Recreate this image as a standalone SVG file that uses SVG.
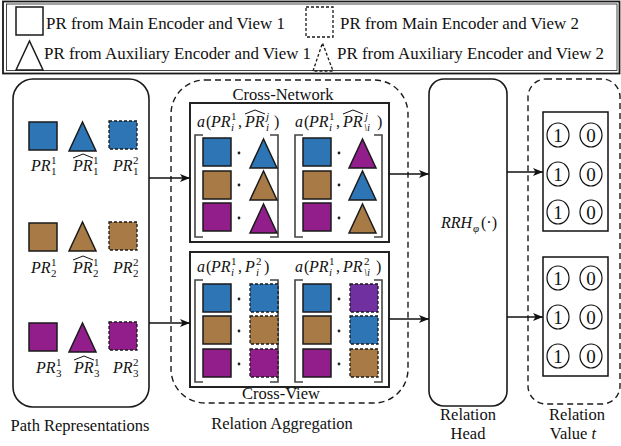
<svg xmlns="http://www.w3.org/2000/svg" width="621" height="446" viewBox="0 0 621 446">
  <defs>
    <style>
      .t { font-family: "Liberation Serif", "Times New Roman", serif; font-size: 16.5px; fill: #111; }
      .lg { font-size: 16.9px; }
      .m { font-family: "Liberation Serif", "Times New Roman", serif; font-size: 16px; font-style: italic; fill: #111; }
      .up { font-style: normal; }
      .s { font-size: 11px; }
      .d { font-family: "Liberation Serif", "Times New Roman", serif; font-size: 19px; fill: #111; text-anchor: middle; }
      .solid { stroke: #1a1a1a; stroke-width: 1.5; }
      .dsh { stroke: #1a1a1a; stroke-width: 1.3; stroke-dasharray: 3 2; }
      .blue { fill: #2E75B6; }
      .brown { fill: #A87A45; }
      .purple { fill: #921E8C; }
      .violet { fill: #7030A0; }
      .none { fill: none; }
      .panel { fill: #fff; stroke: #1a1a1a; stroke-width: 1.6; }
      .dpanel { fill: none; stroke: #1a1a1a; stroke-width: 1.4; stroke-dasharray: 6 4; }
      .box { fill: #fff; stroke: #222; stroke-width: 2; }
      .brk { fill: none; stroke: #444; stroke-width: 1.6; }
      .hat { fill: none; stroke: #111; stroke-width: 1; }
      .circ { fill: #fff; stroke: #111; stroke-width: 1.2; }
      .conn line { stroke: #111; stroke-width: 1.5; }
    </style>
    <marker id="ah" viewBox="0 0 10 8" refX="10" refY="4" markerWidth="10" markerHeight="8" markerUnits="userSpaceOnUse" orient="auto">
      <path d="M0,0 L10,4 L0,8 L2.5,4 z" fill="#111"/>
    </marker>
    <!-- shape templates -->
    <rect id="sq" width="28" height="28"/>
    <polygon id="tri" points="0,29 13.5,0 27,29"/>
    <circle id="dot" r="1.4" fill="#222"/>
  </defs>

  <!-- legend -->
  <g id="legend">
    <rect x="3" y="1.5" width="616.5" height="72" fill="#fff" stroke="#1a1a1a" stroke-width="1.8"/>
    <rect x="6.5" y="4" width="610.5" height="66.5" fill="none" stroke="#1a1a1a" stroke-width="0.8"/>
    <rect x="16" y="7" width="27" height="28" class="none solid"/>
    <text class="t lg" x="46" y="29">PR from Main Encoder and View 1</text>
    <rect x="306" y="7" width="27" height="30" class="none dsh"/>
    <text class="t lg" x="340" y="29">PR from Main Encoder and View 2</text>
    <polygon points="16,70 29.5,41 43,70" class="none solid"/>
    <text class="t lg" x="44" y="59">PR from Auxiliary Encoder and View 1</text>
    <polygon points="313,71 322.5,43 333,71" class="none dsh"/>
    <text class="t lg" x="337" y="59">PR from Auxiliary Encoder and View 2</text>
  </g>

  <!-- path representations -->
  <g id="path-representations">
    <rect x="13" y="79" width="136" height="328" rx="20" class="panel"/>
    <!-- row 1 -->
    <use href="#sq" x="29" y="122" class="blue solid"/>
    <use href="#tri" x="69" y="122" class="blue solid"/>
    <use href="#sq" x="109" y="121" class="blue dsh"/>
    <!-- row 2 -->
    <use href="#sq" x="29" y="223" class="brown solid"/>
    <use href="#tri" x="69" y="222" class="brown solid"/>
    <use href="#sq" x="109" y="222" class="brown dsh"/>
    <!-- row 3 -->
    <use href="#sq" x="29" y="323" class="purple solid"/>
    <use href="#tri" x="69" y="323" class="purple solid"/>
    <use href="#sq" x="109" y="322" class="purple dsh"/>

    <!-- labels row 1 -->
    <g transform="translate(31,171)">
      <text class="m" x="0" y="0">PR</text>
      <text class="m up s" x="20" y="-7">1</text><text class="m up s" x="20" y="4">1</text>
    </g>
    <g transform="translate(73,171)">
      <path class="hat" d="M0,-13 L10,-17 L20,-13"/>
      <text class="m" x="0" y="0">PR</text>
      <text class="m up s" x="20" y="-7">1</text><text class="m up s" x="20" y="4">1</text>
    </g>
    <g transform="translate(113,171)">
      <text class="m" x="0" y="0">PR</text>
      <text class="m up s" x="20" y="-7">2</text><text class="m up s" x="20" y="4">1</text>
    </g>
    <!-- labels row 2 -->
    <g transform="translate(31,273)">
      <text class="m" x="0" y="0">PR</text>
      <text class="m up s" x="20" y="-7">1</text><text class="m up s" x="20" y="4">2</text>
    </g>
    <g transform="translate(73,273)">
      <path class="hat" d="M0,-13 L10,-17 L20,-13"/>
      <text class="m" x="0" y="0">PR</text>
      <text class="m up s" x="20" y="-7">1</text><text class="m up s" x="20" y="4">2</text>
    </g>
    <g transform="translate(113,273)">
      <text class="m" x="0" y="0">PR</text>
      <text class="m up s" x="20" y="-7">2</text><text class="m up s" x="20" y="4">2</text>
    </g>
    <!-- labels row 3 -->
    <g transform="translate(36,373)">
      <text class="m" x="0" y="0">PR</text>
      <text class="m up s" x="20" y="-7">1</text><text class="m up s" x="20" y="4">3</text>
    </g>
    <g transform="translate(74,373)">
      <path class="hat" d="M0,-13 L10,-17 L20,-13"/>
      <text class="m" x="0" y="0">PR</text>
      <text class="m up s" x="20" y="-7">1</text><text class="m up s" x="20" y="4">3</text>
    </g>
    <g transform="translate(113,373)">
      <text class="m" x="0" y="0">PR</text>
      <text class="m up s" x="20" y="-7">2</text><text class="m up s" x="20" y="4">3</text>
    </g>
    <text class="t" x="80" y="431" text-anchor="middle">Path Representations</text>
  </g>

  <!-- relation aggregation -->
  <g id="relation-aggregation">
    <rect x="171" y="80" width="237" height="323" rx="34" class="dpanel"/>
    <text class="t" x="283" y="100" text-anchor="middle">Cross-Network</text>
    <text class="t" x="281" y="399" text-anchor="middle">Cross-View</text>
    <text class="t" x="282" y="429" text-anchor="middle">Relation Aggregation</text>
  </g>

  <g id="cross-network">
    <rect x="190" y="103" width="199" height="139" class="box"/>
    <!-- a(PR_i^1, ^PR_i^j) -->
    <g transform="translate(0,127)">
      <text class="m" x="197" y="0">a</text><text class="m up" x="206" y="0">(</text>
      <text class="m" x="211" y="0">PR</text>
      <text class="m up s" x="231" y="-7">1</text><text class="m s" x="231" y="4">i</text>
      <text class="m up" x="238" y="0">,</text>
      <path class="hat" d="M245,-13 L255,-17 L265,-13"/>
      <text class="m" x="245" y="0">PR</text>
      <text class="m s" x="266" y="-7">j</text><text class="m s" x="266" y="4">i</text>
      <text class="m up" x="274" y="0">)</text>
    </g>
    <!-- a(PR_i^1, ^PR_\i^j) -->
    <g transform="translate(0,127)">
      <text class="m" x="295" y="0">a</text><text class="m up" x="304" y="0">(</text>
      <text class="m" x="309" y="0">PR</text>
      <text class="m up s" x="329" y="-7">1</text><text class="m s" x="329" y="4">i</text>
      <text class="m up" x="336" y="0">,</text>
      <path class="hat" d="M343,-13 L353,-17 L363,-13"/>
      <text class="m" x="343" y="0">PR</text>
      <text class="m s" x="365" y="-7">j</text><text class="m s" x="364" y="4">\i</text>
      <text class="m up" x="377" y="0">)</text>
    </g>
    <!-- brackets -->
    <path class="brk" d="M203,135 H195 V237 H203 M270,135 H278 V237 H270"/>
    <path class="brk" d="M303,135 H295 V237 H303 M374,135 H382 V237 H374"/>
    <!-- matrix 1 -->
    <use href="#sq" x="203" y="138" class="blue solid"/>
    <use href="#sq" x="203" y="171" class="brown solid"/>
    <use href="#sq" x="203" y="203" class="purple solid"/>
    <use href="#dot" x="239" y="153"/><use href="#dot" x="239" y="185"/><use href="#dot" x="239" y="218"/>
    <use href="#tri" x="250" y="139" class="blue solid"/>
    <use href="#tri" x="250" y="171" class="brown solid"/>
    <use href="#tri" x="250" y="204" class="purple solid"/>
    <!-- matrix 2 -->
    <use href="#sq" x="303" y="138" class="blue solid"/>
    <use href="#sq" x="303" y="171" class="brown solid"/>
    <use href="#sq" x="303" y="203" class="purple solid"/>
    <use href="#dot" x="339" y="153"/><use href="#dot" x="339" y="185"/><use href="#dot" x="339" y="218"/>
    <use href="#tri" x="349" y="139" class="purple solid"/>
    <use href="#tri" x="349" y="171" class="blue solid"/>
    <use href="#tri" x="349" y="204" class="brown solid"/>
  </g>

  <g id="cross-view">
    <rect x="190" y="252" width="199" height="135" class="box"/>
    <!-- a(PR_i^1, P_i^2) -->
    <g transform="translate(0,272)">
      <text class="m" x="197" y="0">a</text><text class="m up" x="206" y="0">(</text>
      <text class="m" x="211" y="0">PR</text>
      <text class="m up s" x="231" y="-7">1</text><text class="m s" x="231" y="4">i</text>
      <text class="m up" x="238" y="0">,</text>
      <text class="m" x="245" y="0">P</text>
      <text class="m up s" x="256" y="-7">2</text><text class="m s" x="256" y="4">i</text>
      <text class="m up" x="264" y="0">)</text>
    </g>
    <!-- a(PR_i^1, PR_\i^2) -->
    <g transform="translate(0,272)">
      <text class="m" x="295" y="0">a</text><text class="m up" x="304" y="0">(</text>
      <text class="m" x="309" y="0">PR</text>
      <text class="m up s" x="329" y="-7">1</text><text class="m s" x="329" y="4">i</text>
      <text class="m up" x="336" y="0">,</text>
      <text class="m" x="343" y="0">PR</text>
      <text class="m up s" x="364" y="-7">2</text><text class="m s" x="364" y="4">\i</text>
      <text class="m up" x="376" y="0">)</text>
    </g>
    <path class="brk" d="M203,280 H195 V382 H203 M270,280 H278 V382 H270"/>
    <path class="brk" d="M303,280 H295 V382 H303 M374,280 H382 V382 H374"/>
    <!-- matrix 1 -->
    <use href="#sq" x="203" y="284" class="blue solid"/>
    <use href="#sq" x="203" y="316" class="brown solid"/>
    <use href="#sq" x="203" y="349" class="purple solid"/>
    <use href="#dot" x="239" y="299"/><use href="#dot" x="239" y="331"/><use href="#dot" x="239" y="364"/>
    <use href="#sq" x="250" y="284" class="blue dsh"/>
    <use href="#sq" x="250" y="316" class="brown dsh"/>
    <use href="#sq" x="250" y="349" class="purple dsh"/>
    <!-- matrix 2 -->
    <use href="#sq" x="303" y="284" class="blue solid"/>
    <use href="#sq" x="303" y="316" class="brown solid"/>
    <use href="#sq" x="303" y="349" class="purple solid"/>
    <use href="#dot" x="339" y="299"/><use href="#dot" x="339" y="331"/><use href="#dot" x="339" y="364"/>
    <use href="#sq" x="350" y="284" class="violet dsh"/>
    <use href="#sq" x="350" y="316" class="blue dsh"/>
    <use href="#sq" x="350" y="349" class="brown dsh"/>
  </g>

  <!-- relation head -->
  <g id="relation-head">
    <rect x="429" y="79" width="78" height="327" rx="15" class="panel"/>
    <g transform="translate(441,228)">
      <text class="m" x="0" y="0">RRH</text>
      <text class="m s" x="32" y="4">φ</text>
      <text class="m up" x="40" y="0">(·)</text>
    </g>
    <text class="t" x="468" y="420" text-anchor="middle">Relation</text>
    <text class="t" x="468" y="439" text-anchor="middle">Head</text>
  </g>

  <!-- relation value -->
  <g id="relation-value">
    <rect x="528" y="79" width="92" height="325" rx="18" class="dpanel"/>
    <rect x="543" y="112" width="65" height="119" fill="#fff" stroke="#111" stroke-width="1.5"/>
    <ellipse class="circ" cx="558" cy="135" rx="11" ry="12"/><ellipse class="circ" cx="591" cy="135" rx="11" ry="12"/>
    <ellipse class="circ" cx="558" cy="174" rx="11" ry="12"/><ellipse class="circ" cx="591" cy="174" rx="11" ry="12"/>
    <ellipse class="circ" cx="558" cy="212" rx="11" ry="12"/><ellipse class="circ" cx="591" cy="212" rx="11" ry="12"/>
    <text class="d" x="558" y="141.5">1</text><text class="d" x="591" y="141.5">0</text>
    <text class="d" x="558" y="180.5">1</text><text class="d" x="591" y="180.5">0</text>
    <text class="d" x="558" y="218.5">1</text><text class="d" x="591" y="218.5">0</text>

    <rect x="543" y="257" width="65" height="119" fill="#fff" stroke="#111" stroke-width="1.5"/>
    <ellipse class="circ" cx="558" cy="278" rx="11" ry="12"/><ellipse class="circ" cx="591" cy="278" rx="11" ry="12"/>
    <ellipse class="circ" cx="558" cy="317" rx="11" ry="12"/><ellipse class="circ" cx="591" cy="317" rx="11" ry="12"/>
    <ellipse class="circ" cx="558" cy="356" rx="11" ry="12"/><ellipse class="circ" cx="591" cy="356" rx="11" ry="12"/>
    <text class="d" x="558" y="284.5">1</text><text class="d" x="591" y="284.5">0</text>
    <text class="d" x="558" y="323.5">1</text><text class="d" x="591" y="323.5">0</text>
    <text class="d" x="558" y="362.5">1</text><text class="d" x="591" y="362.5">0</text>

    <text class="t" x="577" y="420" text-anchor="middle">Relation</text>
    <text class="t" x="573" y="439" text-anchor="middle">Value <tspan font-style="italic">t</tspan></text>
  </g>

  <!-- connectors -->
  <g id="connectors" class="conn">
    <line x1="149" y1="178" x2="190" y2="178" marker-end="url(#ah)"/>
    <line x1="149" y1="323" x2="190" y2="323" marker-end="url(#ah)"/>
    <line x1="389" y1="174" x2="429" y2="174" marker-end="url(#ah)"/>
    <line x1="389" y1="319" x2="429" y2="319" marker-end="url(#ah)"/>
    <line x1="507" y1="172" x2="543" y2="172" marker-end="url(#ah)"/>
    <line x1="507" y1="317" x2="543" y2="317" marker-end="url(#ah)"/>
  </g>
</svg>
